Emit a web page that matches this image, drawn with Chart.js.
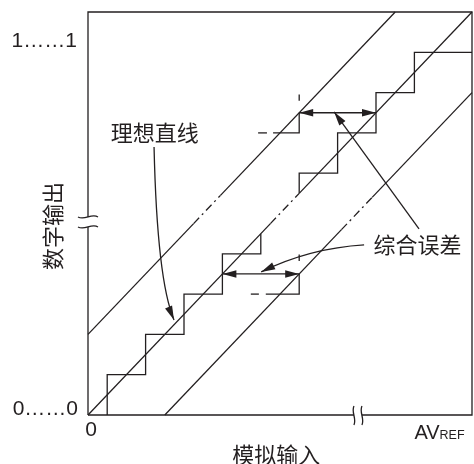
<!DOCTYPE html>
<html>
<head>
<meta charset="utf-8">
<script src="https://cdn.jsdelivr.net/npm/chart.js@4.4.1/dist/chart.umd.min.js"></script>
<style>
  html, body { margin: 0; padding: 0; background: #fff; }
  #wrap { width: 474px; height: 464px; }
</style>
</head>
<body>
<div id="wrap"><canvas id="chart" width="474" height="464"></canvas></div>
<script>
const ink = '#231f20';
const cjkFont = '"Noto Sans CJK SC", "Noto Sans", sans-serif';
const latinFont = '"Liberation Sans", Arial, sans-serif';

// everything is in % of full scale: x = analog input, y = digital output
const frameX = [0, 0, 100, 100, 0];
const frameY = [0, 100, 100, 0, 0];

// ideal line and the two total-error limits, [x, y] end points
const idealSolid = [[[0, 0], [47.5, 47.5]], [[55, 55], [100, 100]]];
const idealDashed = [[[47.5, 47.5], [55, 55]]];
const upperSolid = [[[0, 20], [27.5, 47.5]], [[34.5, 54.5], [80, 100]]];
const upperDashed = [[[27.5, 47.5], [34.5, 54.5]]];
const lowerSolid = [[[20, 0], [66, 46]], [[74, 54], [100, 80]]];
const lowerDashed = [[[66, 46], [74, 54]]];

// ideal conversion staircase, lower and upper parts
const stairLowX = [5, 5, 15, 15, 25, 25, 35, 35, 45, 45];
const stairLowY = [0, 10, 10, 20, 20, 30, 30, 40, 40, 45];
const stairHighX = [55, 55, 65, 65, 75, 75, 85, 85, 100];
const stairHighY = [55, 60, 60, 70, 70, 80, 80, 90, 90];

// shifted steps that show the error limits
const upperStepX = [48.2, 55, 55];
const upperStepY = [70, 70, 75];
const upperStepDash = [[[44.3, 70], [46.6, 70]], [[55, 78], [55, 79.5]]];
const lowerStepX = [46.3, 55, 55];
const lowerStepY = [30, 30, 35];
const lowerStepDash = [[[42.4, 30], [44.5, 30]], [[55, 38.2], [55, 39.8]]];

// double arrows: [xFrom, xTo, y]
const errorSpans = [[55, 75, 75], [35, 55, 35]];

// pointer arrows: start, curve control, tip
const pointers = [
  { from: [17.2, 66.5], ctrl: [18.0, 33.5], to: [22.4, 23.6] },
  { from: [71.9, 42.2], ctrl: [57.8, 41.4], to: [45.1, 35.5] },
  { from: [86.2, 46.2], ctrl: [75.2, 60.7], to: [64.1, 75.2] }
];

const yBreak = 47.9;
const xBreak = 70.3;

const labels = [
  { text: '理想直线', x: 17.4, y: 70, align: 'center', font: '22px ' + cjkFont },
  { text: '综合误差', x: 85.8, y: 42.2, align: 'center', font: '22px ' + cjkFont },
  { text: '模拟输入', x: 49, y: -9.8, align: 'center', font: '22px ' + cjkFont },
  { text: '1……1', x: -2.9, y: 92.8, align: 'right', font: '21px ' + latinFont },
  { text: '0……0', x: -2.6, y: 1.4, align: 'right', font: '21px ' + latinFont },
  { text: '0', x: 0.8, y: -3.8, align: 'center', font: '21px ' + latinFont }
];
const yTitle = { text: '数字输出', x: -9.2, y: 46.9 };
const refLabel = { main: 'AV', sub: 'REF', x: 85.0, y: -4.1 };

const toPoints = (xs, ys) => xs.map((x, i) => ({ x, y: ys[i] }));
const pairPoints = (seg) => seg.map(p => ({ x: p[0], y: p[1] }));

const lineSet = (data, dash) => ({
  data,
  showLine: true,
  borderColor: ink,
  borderWidth: 1.3,
  borderDash: dash || [],
  borderJoinStyle: 'miter',
  pointRadius: 0,
  fill: false,
  tension: 0,
  clip: false
});

const dashDot = [8, 4, 2, 4];
const datasets = [lineSet(toPoints(frameX, frameY))];
idealSolid.concat(upperSolid, lowerSolid).forEach(seg => datasets.push(lineSet(pairPoints(seg))));
idealDashed.concat(upperDashed, lowerDashed).forEach(seg => datasets.push(lineSet(pairPoints(seg), dashDot)));
datasets.push(lineSet(toPoints(stairLowX, stairLowY)));
datasets.push(lineSet(toPoints(stairHighX, stairHighY)));
datasets.push(lineSet(toPoints(upperStepX, upperStepY)));
datasets.push(lineSet(toPoints(lowerStepX, lowerStepY)));
upperStepDash.concat(lowerStepDash).forEach(seg => datasets.push(lineSet(pairPoints(seg))));
errorSpans.forEach(s => datasets.push(lineSet([{ x: s[0], y: s[2] }, { x: s[1], y: s[2] }])));

const drawHead = (ctx, tx, ty, fx, fy) => {
  const a = Math.atan2(ty - fy, tx - fx);
  const len = 14, half = 3.8;
  ctx.beginPath();
  ctx.moveTo(tx, ty);
  ctx.lineTo(tx - len * Math.cos(a) + half * Math.sin(a), ty - len * Math.sin(a) - half * Math.cos(a));
  ctx.lineTo(tx - len * Math.cos(a) - half * Math.sin(a), ty - len * Math.sin(a) + half * Math.cos(a));
  ctx.closePath();
  ctx.fill();
};

const wave = (ctx, x0, y0, x1, y1, amp) => {
  // small S shaped break mark from (x0,y0) to (x1,y1)
  const dx = x1 - x0, dy = y1 - y0;
  const len = Math.hypot(dx, dy);
  const nx = -dy / len * amp, ny = dx / len * amp;
  ctx.beginPath();
  ctx.moveTo(x0, y0);
  ctx.bezierCurveTo(x0 + dx / 3 + nx, y0 + dy / 3 + ny, x0 + 2 * dx / 3 - nx, y0 + 2 * dy / 3 - ny, x1, y1);
  ctx.stroke();
};

const decorations = {
  id: 'decorations',
  afterDatasetsDraw(chart) {
    const { ctx } = chart;
    const sx = chart.scales.x, sy = chart.scales.y;
    const px = v => sx.getPixelForValue(v);
    const py = v => sy.getPixelForValue(v);
    ctx.save();
    ctx.strokeStyle = ink;
    ctx.fillStyle = ink;
    ctx.lineWidth = 1.3;

    // double headed error arrows
    errorSpans.forEach(s => {
      drawHead(ctx, px(s[0]), py(s[2]), px(s[1]), py(s[2]));
      drawHead(ctx, px(s[1]), py(s[2]), px(s[0]), py(s[2]));
    });

    // pointers from the labels
    pointers.forEach(p => {
      const x0 = px(p.from[0]), y0 = py(p.from[1]);
      const cx = px(p.ctrl[0]), cy = py(p.ctrl[1]);
      const x1 = px(p.to[0]), y1 = py(p.to[1]);
      ctx.beginPath();
      ctx.moveTo(x0, y0);
      ctx.quadraticCurveTo(cx, cy, x1, y1);
      ctx.stroke();
      drawHead(ctx, x1, y1, cx, cy);
    });

    // axis breaks
    const bx = px(0), by = py(yBreak);
    ctx.fillStyle = '#fff';
    ctx.fillRect(bx - 3, by - 5, 6, 10);
    ctx.fillStyle = ink;
    wave(ctx, bx - 10, by - 5, bx + 10, by - 5, 4);
    wave(ctx, bx - 10, by + 5, bx + 10, by + 5, 4);
    const xx = px(xBreak), xy = py(0);
    ctx.fillStyle = '#fff';
    ctx.fillRect(xx - 4, xy - 3, 8, 6);
    ctx.fillStyle = ink;
    wave(ctx, xx - 4, xy - 9, xx - 4, xy + 10, 3);
    wave(ctx, xx + 4, xy - 9, xx + 4, xy + 10, 3);

    // texts
    ctx.textBaseline = 'middle';
    labels.forEach(l => {
      ctx.font = l.font;
      ctx.textAlign = l.align;
      ctx.fillText(l.text, px(l.x), py(l.y));
    });
    ctx.save();
    ctx.translate(px(yTitle.x), py(yTitle.y));
    ctx.rotate(-Math.PI / 2);
    ctx.font = '22px ' + cjkFont;
    ctx.textAlign = 'center';
    ctx.fillText(yTitle.text, 0, 0);
    ctx.restore();

    ctx.textAlign = 'left';
    ctx.textBaseline = 'alphabetic';
    const rx = px(refLabel.x), ry = py(refLabel.y) + 7;
    ctx.font = '20px ' + latinFont;
    ctx.fillText(refLabel.main, rx, ry);
    const w = ctx.measureText(refLabel.main).width;
    ctx.font = '12.5px ' + latinFont;
    ctx.fillText(refLabel.sub, rx + w, ry);
    ctx.restore();
  }
};

new Chart(document.getElementById('chart'), {
  type: 'scatter',
  data: { datasets },
  options: {
    responsive: false,
    animation: false,
    devicePixelRatio: 1,
    layout: { padding: { left: 88, top: 12, right: 2, bottom: 49 } },
    scales: {
      x: { type: 'linear', min: 0, max: 100, display: false },
      y: { type: 'linear', min: 0, max: 100, display: false }
    },
    plugins: { legend: { display: false }, tooltip: { enabled: false } }
  },
  plugins: [decorations]
});
</script>
</body>
</html>
